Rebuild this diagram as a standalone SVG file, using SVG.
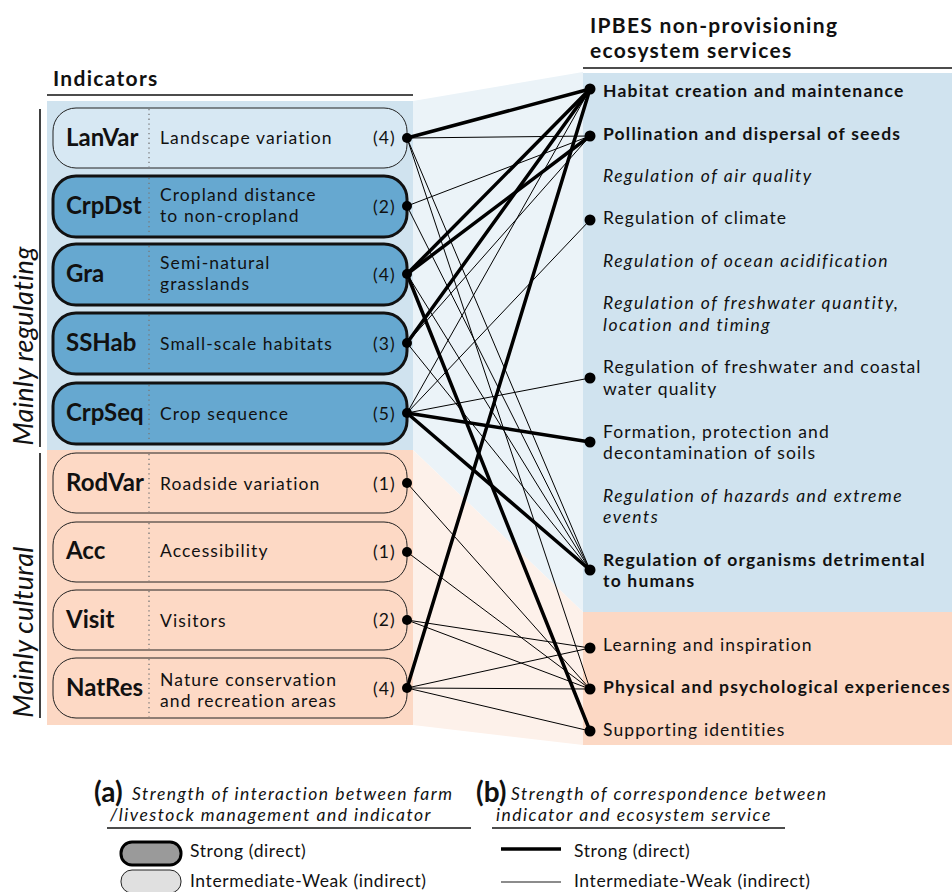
<svg xmlns="http://www.w3.org/2000/svg" width="952" height="892" viewBox="0 0 952 892">
<style>
text{font-family:Lato,"Liberation Sans",sans-serif;fill:#111}
.hdr{font-weight:bold;font-size:21px;letter-spacing:1.3px}
.abbr{font-weight:bold;font-size:24px}
.desc{font-size:17.5px;letter-spacing:1.1px}
.svc{font-size:17.5px;letter-spacing:1.1px}
.leg{font-size:17.5px;letter-spacing:0.6px}
.b{font-weight:bold;letter-spacing:1.2px}
.i{font-style:italic;letter-spacing:1.5px}
.side{font-style:italic;font-size:27px;letter-spacing:0.3px}
.node-w{fill:#d7e8f3;stroke:#222;stroke-width:1}
.node-s{fill:#66a8d0;stroke:#111;stroke-width:3}
.node-c{fill:#fdd9c5;stroke:#222;stroke-width:1}
.div{stroke:#777;stroke-width:1.3;stroke-dasharray:1.3 3.5}
.thick{stroke:#000;stroke-width:3.5;stroke-linecap:round;fill:none}
.thin{stroke:#000;stroke-width:1;fill:none}
.rule{stroke:#111;stroke-width:1.6}
.dot{fill:#000}
</style>
<rect width="952" height="892" fill="#fff"/>
<g id="backgrounds">
<polygon points="413,101 583,72 583,612 413,450" fill="#ebf3f8"/>
<polygon points="413,450 583,612 583,745 413,725" fill="#fdf1ea"/>
<rect x="47" y="101" width="366" height="349" fill="#d0e3ef"/>
<rect x="47" y="450" width="366" height="275" fill="#fcd8c4"/>
<rect x="583" y="73" width="369" height="539" fill="#d0e3ef"/>
<rect x="583" y="612" width="369" height="133" fill="#fcd8c4"/>
</g>
<g id="headers">
<text class="hdr" x="53" y="86">Indicators</text>
<line class="rule" x1="47" y1="95" x2="413" y2="95"/>
<text class="hdr" x="590" y="33">IPBES non-provisioning</text>
<text class="hdr" x="590" y="58">ecosystem services</text>
<line class="rule" x1="583" y1="68" x2="952" y2="68"/>
<line class="rule" x1="40" y1="109" x2="40" y2="447"/>
<line class="rule" x1="40" y1="453" x2="40" y2="718"/>
<text class="side" transform="translate(33,346) rotate(-90)" text-anchor="middle">Mainly regulating</text>
<text class="side" transform="translate(33,632) rotate(-90)" text-anchor="middle">Mainly cultural</text>
</g>
<g id="connectors">
<line class="thin" x1="407" y1="138" x2="590" y2="136"/>
<line class="thin" x1="407" y1="138" x2="590" y2="570"/>
<line class="thin" x1="407" y1="138" x2="590" y2="689"/>
<line class="thin" x1="407" y1="206" x2="590" y2="136"/>
<line class="thin" x1="407" y1="206" x2="590" y2="570"/>
<line class="thin" x1="407" y1="274" x2="590" y2="570"/>
<line class="thin" x1="407" y1="343" x2="590" y2="136"/>
<line class="thin" x1="407" y1="343" x2="590" y2="570"/>
<line class="thin" x1="407" y1="413" x2="590" y2="89"/>
<line class="thin" x1="407" y1="413" x2="590" y2="220"/>
<line class="thin" x1="407" y1="413" x2="590" y2="378"/>
<line class="thin" x1="407" y1="483" x2="590" y2="689"/>
<line class="thin" x1="407" y1="552" x2="590" y2="689"/>
<line class="thin" x1="407" y1="620" x2="590" y2="648"/>
<line class="thin" x1="407" y1="620" x2="590" y2="689"/>
<line class="thin" x1="407" y1="688" x2="590" y2="648"/>
<line class="thin" x1="407" y1="688" x2="590" y2="689"/>
<line class="thin" x1="407" y1="688" x2="590" y2="731"/>
<line class="thick" x1="407" y1="138" x2="590" y2="89"/>
<line class="thick" x1="407" y1="274" x2="590" y2="89"/>
<line class="thick" x1="407" y1="274" x2="590" y2="136"/>
<line class="thick" x1="407" y1="274" x2="590" y2="731"/>
<line class="thick" x1="407" y1="343" x2="590" y2="89"/>
<line class="thick" x1="407" y1="413" x2="590" y2="442"/>
<line class="thick" x1="407" y1="413" x2="590" y2="570"/>
<line class="thick" x1="407" y1="688" x2="590" y2="89"/>
</g>
<g id="n-LanVar">
<rect class="node-w" x="53" y="108" width="354" height="60" rx="23"/>
<line class="div" x1="149" y1="109" x2="149" y2="167"/>
<text class="abbr" x="66" y="146">LanVar</text>
<text class="desc" x="160" y="144">Landscape variation</text>
<text class="desc" x="373" y="144">(4)</text>
<circle class="dot" cx="407" cy="138" r="5"/>
</g>
<g id="n-CrpDst">
<rect class="node-s" x="53" y="176" width="354" height="61" rx="23"/>
<line class="div" x1="149" y1="178" x2="149" y2="235"/>
<text class="abbr" x="66" y="214">CrpDst</text>
<text class="desc" x="160" y="201">Cropland distance</text>
<text class="desc" x="160" y="222">to non-cropland</text>
<text class="desc" x="373" y="213">(2)</text>
<circle class="dot" cx="407" cy="206" r="5"/>
</g>
<g id="n-Gra">
<rect class="node-s" x="53" y="244" width="354" height="61" rx="23"/>
<line class="div" x1="149" y1="246" x2="149" y2="303"/>
<text class="abbr" x="66" y="282">Gra</text>
<text class="desc" x="160" y="269">Semi-natural</text>
<text class="desc" x="160" y="290">grasslands</text>
<text class="desc" x="373" y="281">(4)</text>
<circle class="dot" cx="407" cy="274" r="5"/>
</g>
<g id="n-SSHab">
<rect class="node-s" x="53" y="313" width="354" height="61" rx="23"/>
<line class="div" x1="149" y1="315" x2="149" y2="372"/>
<text class="abbr" x="66" y="351">SSHab</text>
<text class="desc" x="160" y="350">Small-scale habitats</text>
<text class="desc" x="373" y="350">(3)</text>
<circle class="dot" cx="407" cy="343" r="5"/>
</g>
<g id="n-CrpSeq">
<rect class="node-s" x="53" y="383" width="354" height="61" rx="23"/>
<line class="div" x1="149" y1="385" x2="149" y2="442"/>
<text class="abbr" x="66" y="421">CrpSeq</text>
<text class="desc" x="160" y="420">Crop sequence</text>
<text class="desc" x="373" y="420">(5)</text>
<circle class="dot" cx="407" cy="413" r="5"/>
</g>
<g id="n-RodVar">
<rect class="node-c" x="53" y="453" width="354" height="60" rx="23"/>
<line class="div" x1="149" y1="454" x2="149" y2="512"/>
<text class="abbr" x="66" y="491">RodVar</text>
<text class="desc" x="160" y="490">Roadside variation</text>
<text class="desc" x="373" y="490">(1)</text>
<circle class="dot" cx="407" cy="483" r="5"/>
</g>
<g id="n-Acc">
<rect class="node-c" x="53" y="522" width="354" height="60" rx="23"/>
<line class="div" x1="149" y1="523" x2="149" y2="581"/>
<text class="abbr" x="66" y="559">Acc</text>
<text class="desc" x="160" y="557">Accessibility</text>
<text class="desc" x="373" y="558">(1)</text>
<circle class="dot" cx="407" cy="552" r="5"/>
</g>
<g id="n-Visit">
<rect class="node-c" x="53" y="590" width="354" height="60" rx="23"/>
<line class="div" x1="149" y1="591" x2="149" y2="649"/>
<text class="abbr" x="66" y="628">Visit</text>
<text class="desc" x="160" y="627">Visitors</text>
<text class="desc" x="373" y="626">(2)</text>
<circle class="dot" cx="407" cy="620" r="5"/>
</g>
<g id="n-NatRes">
<rect class="node-c" x="53" y="658" width="354" height="60" rx="23"/>
<line class="div" x1="149" y1="659" x2="149" y2="717"/>
<text class="abbr" x="66" y="696">NatRes</text>
<text class="desc" x="160" y="686">Nature conservation</text>
<text class="desc" x="160" y="707">and recreation areas</text>
<text class="desc" x="373" y="695">(4)</text>
<circle class="dot" cx="407" cy="688" r="5"/>
</g>
<g id="s-habitat"><circle class="dot" cx="590" cy="89" r="5.5"/><text class="svc b" x="603" y="97">Habitat creation and maintenance</text></g>
<g id="s-pollination"><circle class="dot" cx="590" cy="136" r="5.5"/><text class="svc b" x="603" y="140">Pollination and dispersal of seeds</text></g>
<g id="s-air"><text class="svc i" x="603" y="182">Regulation of air quality</text></g>
<g id="s-climate"><circle class="dot" cx="590" cy="220" r="5.5"/><text class="svc" x="603" y="224">Regulation of climate</text></g>
<g id="s-ocean"><text class="svc i" x="603" y="267">Regulation of ocean acidification</text></g>
<g id="s-fwquantity"><text class="svc i" x="603" y="309">Regulation of freshwater quantity,</text><text class="svc i" x="603" y="331">location and timing</text></g>
<g id="s-fwquality"><circle class="dot" cx="590" cy="378" r="5.5"/><text class="svc" x="603" y="373">Regulation of freshwater and coastal</text><text class="svc" x="603" y="395">water quality</text></g>
<g id="s-soils"><circle class="dot" cx="590" cy="442" r="5.5"/><text class="svc" x="603" y="438">Formation, protection and</text><text class="svc" x="603" y="459">decontamination of soils</text></g>
<g id="s-hazards"><text class="svc i" x="603" y="502">Regulation of hazards and extreme</text><text class="svc i" x="603" y="523">events</text></g>
<g id="s-organisms"><circle class="dot" cx="590" cy="570" r="5.5"/><text class="svc b" x="603" y="566">Regulation of organisms detrimental</text><text class="svc b" x="603" y="587">to humans</text></g>
<g id="s-learning"><circle class="dot" cx="590" cy="648" r="5.5"/><text class="svc" x="603" y="651">Learning and inspiration</text></g>
<g id="s-physical"><circle class="dot" cx="590" cy="689" r="5.5"/><text class="svc b" x="603" y="693">Physical and psychological experiences</text></g>
<g id="s-supporting"><circle class="dot" cx="590" cy="731" r="5.5"/><text class="svc" x="603" y="736">Supporting identities</text></g>
<g id="legend">
<text x="94" y="802" style="font-weight:bold;font-size:28px">(a)</text>
<text class="svc i" x="132" y="800">Strength of interaction between farm</text>
<text class="svc i" x="110" y="821">/livestock management and indicator</text>
<line class="rule" x1="107" y1="828" x2="471" y2="828"/>
<rect x="121" y="842" width="60" height="23" rx="11" fill="#9a9a9a" stroke="#000" stroke-width="3"/>
<text class="leg" x="190" y="857">Strong (direct)</text>
<rect x="121" y="870" width="60" height="23" rx="11" fill="#e0e0e0" stroke="#222" stroke-width="1"/>
<text class="leg" x="190" y="887">Intermediate-Weak (indirect)</text>
<text x="476" y="802" style="font-weight:bold;font-size:28px">(b)</text>
<text class="svc i" x="511" y="800">Strength of correspondence between</text>
<text class="svc i" x="496" y="821">indicator and ecosystem service</text>
<line class="rule" x1="492" y1="828" x2="785" y2="828"/>
<line x1="501" y1="849" x2="561" y2="849" stroke="#000" stroke-width="3.5"/>
<text class="leg" x="574" y="857">Strong (direct)</text>
<line x1="501" y1="882" x2="561" y2="882" stroke="#666" stroke-width="1.3"/>
<text class="leg" x="574" y="887">Intermediate-Weak (indirect)</text>
</g>
</svg>
